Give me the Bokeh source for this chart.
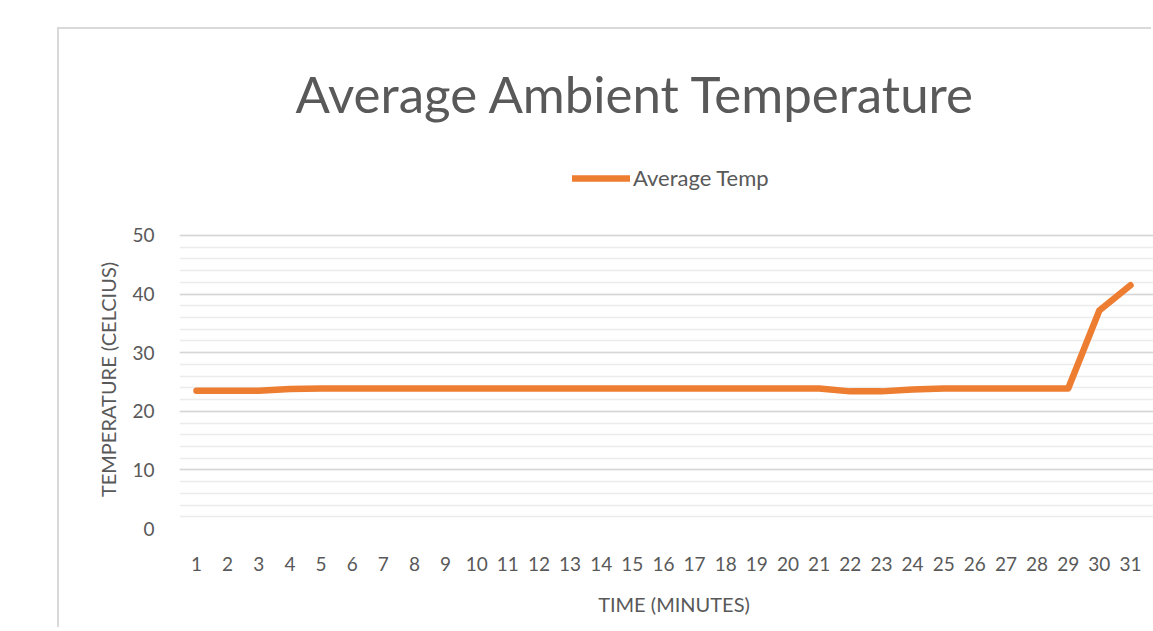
from bokeh.plotting import figure
from bokeh.models import Range1d, FixedTicker, Legend, LegendItem
from bokeh.embed import file_html
from bokeh.resources import INLINE

# ---- data ----
minutes = list(range(1, 32))
avg_temp = [23.5, 23.5, 23.5, 23.8, 23.9, 23.9, 23.9, 23.9, 23.9, 23.9,
            23.9, 23.9, 23.9, 23.9, 23.9, 23.9, 23.9, 23.9, 23.9, 23.9,
            23.9, 23.4, 23.4, 23.7, 23.9, 23.9, 23.9, 23.9, 23.9, 37.2, 41.5]
x_tick_labels = [str(m) for m in minutes]
y_major = [0, 10, 20, 30, 40, 50]
y_minor = list(range(0, 51, 2))

TXT = "#595959"
FONT = "Lato"

p = figure(width=1094, height=600, output_backend="svg", toolbar_location=None,
           x_range=Range1d(0.454, 31.74), y_range=Range1d(0, 63.65),
           min_border_left=120, min_border_top=126, min_border_bottom=101, min_border_right=0,
           margin=(29, 0, 0, 59),
           styles={"box-shadow": "-2px -2px 0 0 #d9d9d9"},
           title="Average Ambient Temperature")

p.outline_line_color = None
p.background_fill_color = "white"
p.border_fill_color = "white"

p.title.align = "left"
p.title.offset = 116
p.title.standoff = 63
p.title.text_font = FONT
p.title.text_font_size = "51px"
p.title.text_font_style = "normal"
p.title.text_color = TXT

r = p.line(minutes, avg_temp, line_color="#ED7D31", line_width=6.5,
           line_join="round", line_cap="round")

# y axis
p.yaxis.ticker = FixedTicker(ticks=y_major, minor_ticks=y_minor)
p.yaxis.axis_line_color = None
p.yaxis.major_tick_line_color = None
p.yaxis.minor_tick_line_color = None
p.yaxis.major_label_text_font = FONT
p.yaxis.major_label_text_font_size = "19px"
p.yaxis.major_label_text_color = TXT
p.yaxis.major_label_standoff = 19
p.yaxis.axis_label = "TEMPERATURE (CELCIUS)" + "\u2003" * 5
p.yaxis.axis_label_text_font = FONT
p.yaxis.axis_label_text_font_size = "20px"
p.yaxis.axis_label_text_font_style = "normal"
p.yaxis.axis_label_text_color = TXT
p.yaxis.axis_label_standoff = 9

# x axis
p.xaxis.ticker = FixedTicker(ticks=minutes)
p.xaxis.major_label_overrides = {m: s for m, s in zip(minutes, x_tick_labels)}
p.xaxis.axis_line_color = None
p.xaxis.major_tick_line_color = None
p.xaxis.minor_tick_line_color = None
p.xaxis.major_label_text_font = FONT
p.xaxis.major_label_text_font_size = "19px"
p.xaxis.major_label_text_color = TXT
p.xaxis.major_label_standoff = 22
p.xaxis.axis_label = "\u2003TIME (MINUTES)"
p.xaxis.axis_label_text_font = FONT
p.xaxis.axis_label_text_font_size = "20px"
p.xaxis.axis_label_text_font_style = "normal"
p.xaxis.axis_label_text_color = TXT
p.xaxis.axis_label_standoff = 18

# grids
p.xgrid.grid_line_color = None
p.ygrid.grid_line_color = "#d6d6d6"
p.ygrid.grid_line_width = 1.5
p.ygrid.minor_grid_line_color = "#ececec"
p.ygrid.minor_grid_line_width = 1.5

legend = Legend(items=[LegendItem(label="Average Temp", renderers=[r])],
                location=(393, 337), orientation="horizontal",
                padding=0, margin=0, spacing=0,
                border_line_color=None, background_fill_alpha=0,
                glyph_width=58, glyph_height=20, label_height=20,
                label_standoff=3,
                label_text_font=FONT, label_text_font_size="22px",
                label_text_color=TXT)
p.add_layout(legend, "center")

open("out.html", "w").write(file_html(p, INLINE))
